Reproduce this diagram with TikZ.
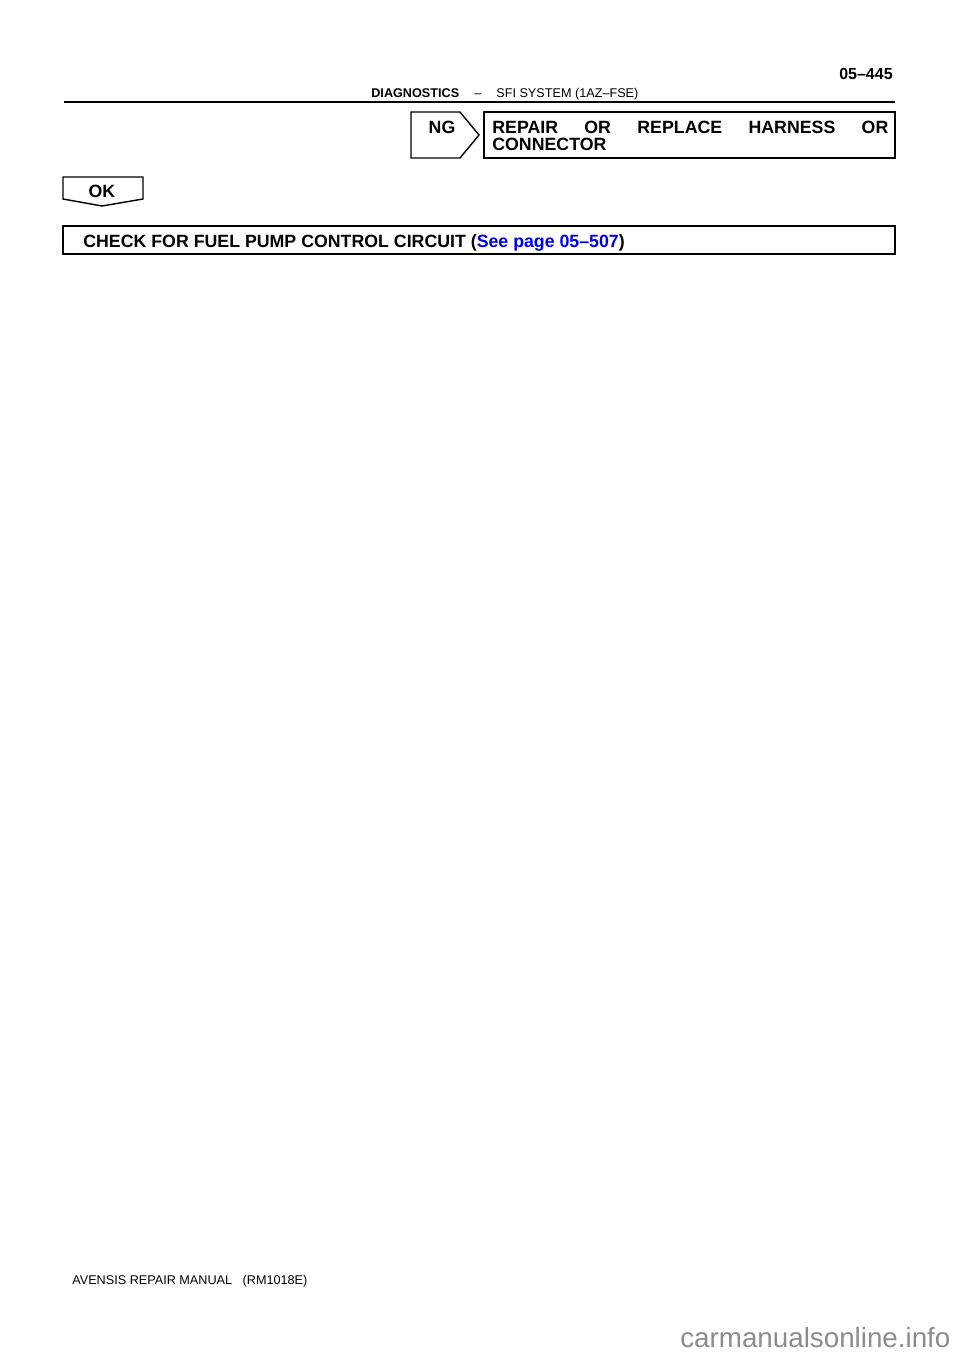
\documentclass[tikz,border=0pt]{standalone}
\usepackage{fontspec}
\setmainfont{Liberation Sans}
\definecolor{linkblue}{RGB}{0,0,235}
\definecolor{markgray}{RGB}{140,140,140}
\tikzset{
	boxline/.style={draw=black, line width=0.8pt},
	rule/.style={draw=black, line width=1.1pt},
	lbl/.style={black, inner sep=0pt},
	mainfont/.style={font=\fontsize{10.1}{9.7}\selectfont\bfseries},
}
\begin{document}
\begin{tikzpicture}
	\useasboundingbox (0,0) rectangle (19.20,-27.16);
	% page head
	\draw[rule] (1.28,-2.04) -- (17.90,-2.04);
	\node[lbl, anchor=base east, font=\fontsize{9.1}{11}\selectfont\bfseries] (pageno) at (17.86,-1.58) {05--445};
	\node[lbl, anchor=base west, font=\fontsize{7.2}{9}\selectfont\bfseries] (section) at (7.42,-1.94) {DIAGNOSTICS};
	\node[lbl, anchor=base, font=\fontsize{7.2}{9}\selectfont] (dash) at (9.56,-1.94) {--};
	\node[lbl, anchor=base west, font=\fontsize{7.2}{9}\selectfont] (system) at (9.92,-1.94) {SFI SYSTEM (1AZ--FSE)};
	% NG branch
	\draw[boxline] (8.22,-2.24) -- (9.20,-2.24) -- (9.58,-2.70) -- (9.20,-3.16) -- (8.22,-3.16) -- cycle;
	\node[lbl, anchor=base, mainfont] (ng) at (8.84,-2.66) {NG};
	\draw[boxline] (9.68,-2.24) rectangle (17.90,-3.16);
	\node[lbl, anchor=base west, mainfont, text width=7.92cm, align=justify] (repair) at (9.84,-2.66) {REPAIR OR REPLACE HARNESS OR\linebreak CONNECTOR};
	% OK branch
	\draw[boxline] (1.26,-3.54) -- (2.86,-3.54) -- (2.86,-3.98) -- (2.04,-4.12) -- (1.26,-3.98) -- cycle;
	\node[lbl, anchor=base, mainfont] (ok) at (2.04,-3.94) {OK};
	\draw[boxline] (1.26,-4.52) rectangle (17.90,-5.08);
	\node[lbl, anchor=base west, mainfont] (check) at (1.66,-4.94) {CHECK FOR FUEL PUMP CONTROL CIRCUIT (\textcolor{linkblue}{See page 05--507})};
	% page foot
	\node[lbl, anchor=base west, font=\fontsize{7.2}{9}\selectfont] (manual) at (1.44,-25.68) {AVENSIS REPAIR MANUAL \ \ (RM1018E)};
	\node[lbl, anchor=base west, markgray, font=\fontsize{15.8}{18}\selectfont] (site) at (13.60,-26.94) {carmanualsonline.info};
\end{tikzpicture}
\end{document}
